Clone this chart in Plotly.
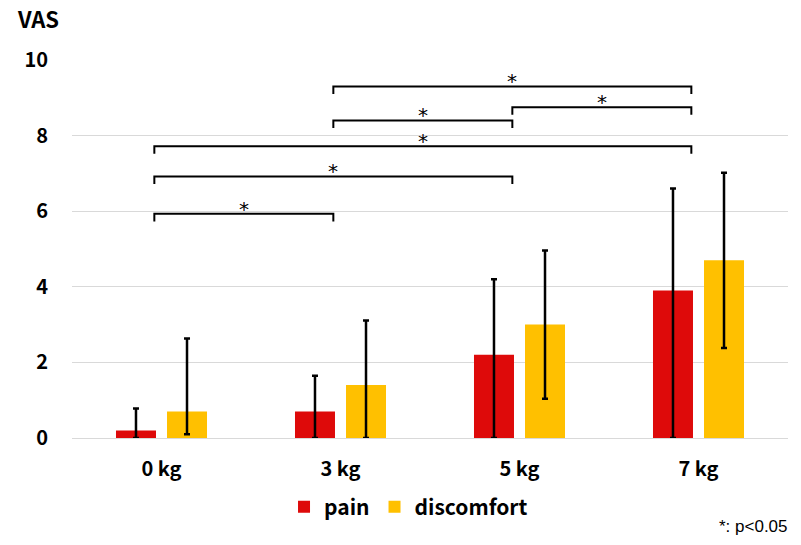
import plotly.graph_objects as go

categories = ["0 kg", "3 kg", "5 kg", "7 kg"]
pain = [0.2, 0.7, 2.2, 3.9]
pain_err_plus = [0.58, 0.95, 2.0, 2.7]
pain_err_minus = [0.2, 0.7, 2.2, 3.9]
discomfort = [0.7, 1.4, 3.0, 4.7]
discomfort_err_plus = [1.93, 1.71, 1.96, 2.32]
discomfort_err_minus = [0.6, 1.4, 1.96, 2.32]
y_ticks = [0, 2, 4, 6, 8, 10]

# significance comparisons (category index pairs) and bracket heights (VAS units)
bracket_pairs = [(0, 1), (0, 2), (0, 3), (1, 2), (2, 3), (1, 3)]
bracket_heights = [5.93, 6.92, 7.72, 8.40, 8.75, 9.30]

FONT = "Noto Sans CJK JP"
x_idx = list(range(len(categories)))

fig = go.Figure()
fig.add_trace(go.Bar(
    x=x_idx, y=pain, name="pain",
    marker=dict(color="#DE0A0A", line=dict(width=0)),
    error_y=dict(type="data", symmetric=False, array=pain_err_plus,
                 arrayminus=pain_err_minus, color="black", thickness=2.5, width=3),
))
fig.add_trace(go.Bar(
    x=x_idx, y=discomfort, name="discomfort",
    marker=dict(color="#FFC000", line=dict(width=0)),
    error_y=dict(type="data", symmetric=False, array=discomfort_err_plus,
                 arrayminus=discomfort_err_minus, color="black", thickness=2.5, width=3),
))

off = -0.04
tick_len = 0.2
for (a, b), h in zip(bracket_pairs, bracket_heights):
    xa, xb = a + off, b + off
    fig.add_shape(type="path",
                  path=f"M {xa},{h - tick_len} L {xa},{h} L {xb},{h} L {xb},{h - tick_len}",
                  xref="x", yref="y", line=dict(color="black", width=2))
    fig.add_annotation(x=(xa + xb) / 2, y=h, xref="x", yref="y", text="*",
                       showarrow=False, yanchor="middle", yshift=5,
                       font=dict(family="DejaVu Sans", size=20, color="black"))

fig.add_annotation(text="VAS", xref="paper", yref="paper", x=-0.047, y=1.111,
                   showarrow=False, xanchor="center", yanchor="middle",
                   font=dict(family=FONT, size=22, color="black", weight="bold"))
fig.add_annotation(text="*: p<0.05", xref="paper", yref="paper", x=1.003, y=-0.235,
                   showarrow=False, xanchor="right", yanchor="middle",
                   font=dict(family="Liberation Sans", size=17, color="black"))

fig.update_layout(
    width=801, height=545,
    margin=dict(l=72, r=13, t=60, b=107),
    plot_bgcolor="white", paper_bgcolor="white",
    barmode="group", bargap=0.43, bargroupgap=0.216,
    font=dict(family=FONT, color="black"),
    showlegend=True,
    legend=dict(orientation="h", x=0.470, y=-0.183, xanchor="center", yanchor="middle",
                font=dict(family=FONT, size=21, color="black", weight="bold"),
                itemclick=False),
)
fig.update_xaxes(
    tickmode="array", tickvals=x_idx, ticktext=categories, range=[-0.5, 3.5],
    showgrid=False, zeroline=False, showline=True, linecolor="#d9d9d9", linewidth=1,
    ticks="", ticklabelstandoff=13,
    tickfont=dict(family=FONT, size=20, color="black", weight="bold"),
)
fig.update_yaxes(
    range=[0, 10], tickmode="array", tickvals=y_ticks,
    showgrid=True, gridcolor="#d9d9d9", gridwidth=1, zeroline=False, showline=False,
    ticks="", ticklabelstandoff=23,
    tickfont=dict(family=FONT, size=20, color="black", weight="bold"),
)

fig.write_html("out.html", config={"displayModeBar": False},
               post_script="document.body.style.margin='0';document.body.style.padding='0';")
